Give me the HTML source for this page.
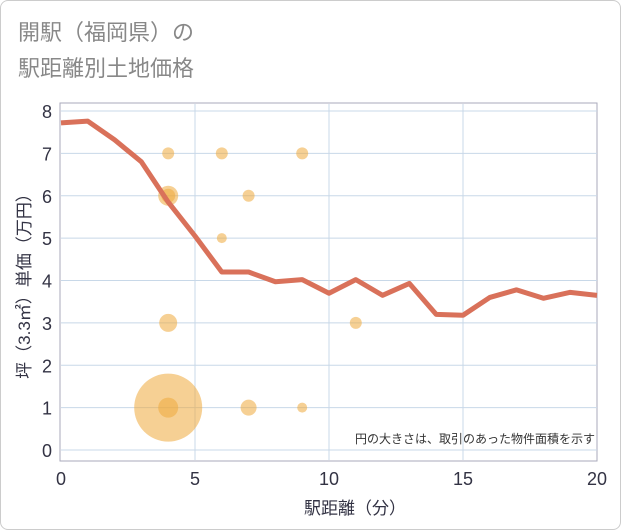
<!DOCTYPE html>
<html><head><meta charset="utf-8"><style>
body{margin:0;background:#fff;}
#wrap{position:relative;width:619px;height:528px;border:1px solid #ccc;border-radius:8px;background:#fff;font-family:"Liberation Sans","Noto Sans CJK JP",sans-serif;}
</style></head><body>
<div id="wrap">
<svg id="chart" width="621" height="530" style="position:absolute;left:-1px;top:-1px">
<text x="18" y="40" font-size="22" fill="#888" font-family="Liberation Sans, Noto Sans CJK JP, sans-serif">開駅（福岡県）の</text>
<text x="18" y="76" font-size="22" fill="#888" font-family="Liberation Sans, Noto Sans CJK JP, sans-serif">駅距離別土地価格</text>
<g id="grid"></g><g id="bubbles"></g><g id="line"></g><g id="axes"></g>
<text x="595" y="443" font-size="12" fill="#333" text-anchor="end" font-family="Liberation Sans, Noto Sans CJK JP, sans-serif">円の大きさは、取引のあった物件面積を示す</text>
<text x="355" y="514" font-size="17" fill="#334" text-anchor="middle" font-family="Liberation Sans, Noto Sans CJK JP, sans-serif">駅距離（分）</text>
<text transform="translate(30,282) rotate(-90)" font-size="17" fill="#334" text-anchor="middle" font-family="Liberation Sans, Noto Sans CJK JP, sans-serif">坪（3.3㎡）単価（万円）</text>
</svg>
</div>
<script>
const lineX=[0,1,2,3,4,5,6,7,8,9,10,11,12,13,14,15,16,17,18,19,20];
const lineY=[7.72,7.76,7.32,6.8,5.85,5.05,4.2,4.2,3.97,4.02,3.7,4.02,3.65,3.93,3.2,3.18,3.6,3.78,3.58,3.72,3.65];
const bubX=[4,6,9,4,4,7,6,4,11,4,4,7,9];
const bubY=[7,7,7,6,6,6,5,3,3,1,1,1,1];
const bubR=[6,6,6,10,7,6,5,9,6,34,10,8,5];
const xTicks=[0,5,10,15,20];
const yTicks=[0,1,2,3,4,5,6,7,8];
const X0=61,X1=597,Y0=450,Y8=111;
const sx=v=>X0+(X1-X0)*v/20, sy=v=>Y0-(Y0-Y8)*v/8;
const NS="http://www.w3.org/2000/svg";
function mk(t,a,p){const e=document.createElementNS(NS,t);for(const k in a)e.setAttribute(k,a[k]);p.appendChild(e);return e;}
const g=document.getElementById('grid');
mk('rect',{x:60,y:103,width:537,height:358,fill:'#fff',stroke:'#aab',"stroke-width":1},g);
yTicks.forEach(v=>{const y=sy(v);
 const l=mk('line',{x1:61,x2:597,y1:y,y2:y,stroke:'#c8d8e8','stroke-width':1},g);
 });
xTicks.forEach(v=>{if(v==0||v==20)return;const x=sx(v);
 const l=mk('line',{x1:x,x2:x,y1:104,y2:460,stroke:'#c8d8e8','stroke-width':1},g);
 });
const a=document.getElementById('axes');
yTicks.forEach(v=>{const t=mk('text',{x:52,y:sy(v)+7,'font-size':18,fill:'#334','text-anchor':'end'},a);t.textContent=v;
 });
xTicks.forEach(v=>{const t=mk('text',{x:sx(v),y:485,'font-size':18,fill:'#334','text-anchor':'middle'},a);t.textContent=v;
 });
const b=document.getElementById('bubbles');
bubX.forEach((x,i)=>{const c=mk('circle',{cx:sx(x),cy:sy(bubY[i]),r:bubR[i],fill:'rgba(238,170,60,0.55)'},b);
 });
const p=mk('polyline',{points:lineX.map((x,i)=>sx(x)+','+sy(lineY[i])).join(' '),fill:'none',stroke:'#d9715a','stroke-width':5,'stroke-linejoin':'round'},document.getElementById('line'));


</script>
</body></html>
